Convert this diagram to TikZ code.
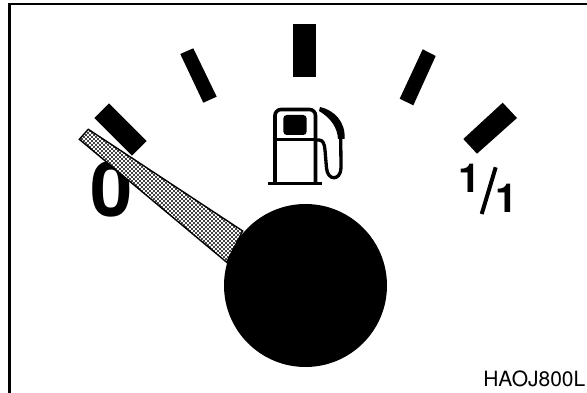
\documentclass[tikz,border=0pt]{standalone}
\usepackage{fontspec}
\setmainfont{TeX Gyre Heros}
\usepackage{tikz}
\usetikzlibrary{patterns,positioning}

\pgfdeclarepatternformonly{needledots}{\pgfqpoint{-1pt}{-1pt}}{\pgfqpoint{3pt}{3pt}}{\pgfqpoint{4pt}{4pt}}{%
  \pgfpathcircle{\pgfqpoint{0pt}{0pt}}{1.15pt}
  \pgfpathcircle{\pgfqpoint{2pt}{2pt}}{1.15pt}
  \pgfusepath{fill}
}

\begin{document}
\begin{tikzpicture}[
  x=1pt,y=-1pt,
  tickmark/.style={fill=black,draw=none},
  pumpline/.style={draw=black,line width=3.6pt,line join=round},
  digit/.style={inner sep=0pt,text=black}
]
\useasboundingbox (0,0) rectangle (587,393);
\fill[white] (0,0) rectangle (587,393);
% frame
\draw[line width=2.6pt] (9.3,393) -- (9.3,4) -- (587,4);
% scale marks
\fill[tickmark] (109,103.3) -- (146.7,141) -- (132,155.7) -- (94.3,118) -- cycle;
\fill[tickmark] (193.3,48.3) -- (216.7,96.7) -- (203.3,102.7) -- (180.3,54) -- cycle;
\fill[tickmark] (293.3,24) rectangle (316,77.3);
\fill[tickmark] (422.7,49.3) -- (435.7,56) -- (413.3,105.3) -- (399.7,98.7) -- cycle;
\fill[tickmark] (502.7,102.7) -- (517,118) -- (477,153.7) -- (463.3,139) -- cycle;
% labels
\node[digit,font=\fontsize{76}{76}\selectfont\bfseries] (zero) at (111.5,189) {0};
\node[digit,font=\fontsize{40}{40}\selectfont\bfseries] (one) at (470,178.5) {1};
\node[digit,font=\fontsize{40}{40}\selectfont\bfseries] (full) at (506.5,198) {1};
\draw[line width=4pt] (495.7,167.3) -- (481.7,214);
\node[anchor=south east,font=\fontsize{21}{21}\selectfont,inner sep=0pt] (code) at (585.5,386.7) {HAOJ800L};
% needle
\fill[white] (88.3,129.3) -- (242.7,231) -- (226.7,262.3) -- (79.3,139.3) -- cycle;
\draw[line width=1.4pt,pattern=needledots,pattern color=black] (88.3,129.3) -- (242.7,231) -- (226.7,262.3) -- (79.3,139.3) -- cycle;
% hub
\fill[black] (305.5,285.5) circle (81.5);
% pump
\draw[pumpline,rounded corners=6pt] (275,183) -- (275,109.5) -- (315.5,109.5) -- (315.5,183);
\draw[pumpline] (275,139.5) -- (315.5,139.5);
\draw[line width=3.4pt] (268.3,183.3) -- (321.7,183.3);
\fill[black,rounded corners=3.5pt] (283.3,115) rectangle (306.7,135);
\draw[line width=3.3pt] (315.5,140) -- (319,140) .. controls (323,140) and (324.5,144) .. (325,150) -- (326.5,168) .. controls (327.5,181) and (340.5,181) .. (341,168) -- (340.7,134);
\fill[black] (320,107) .. controls (334,110) and (346,122) .. (344.5,139) -- (338,139) .. controls (337.5,128) and (331,118) .. (319,111) -- cycle;
\end{tikzpicture}
\end{document}
